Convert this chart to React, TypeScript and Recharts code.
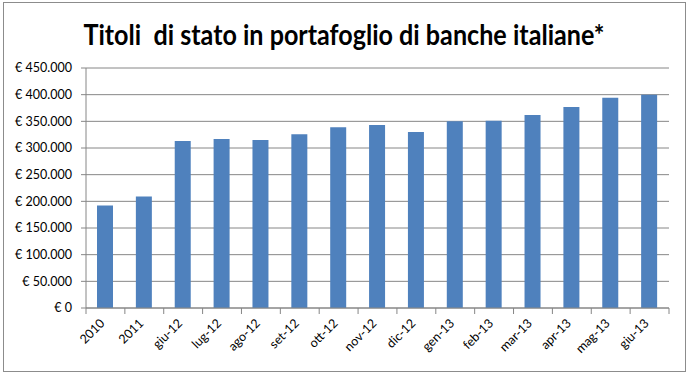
import { BarChart, Bar, XAxis, YAxis, CartesianGrid } from "recharts";

const categories = [
  "2010", "2011", "giu-12", "lug-12", "ago-12", "set-12", "ott-12", "nov-12",
  "dic-12", "gen-13", "feb-13", "mar-13", "apr-13", "mag-13", "giu-13",
];
const values = [
  192000, 209000, 313000, 317000, 315000, 326000, 339000, 343000,
  330000, 350000, 351000, 362000, 377000, 394000, 400000,
];
const yTicks = [0, 50000, 100000, 150000, 200000, 250000, 300000, 350000, 400000, 450000];

const title = "Titoli  di stato in portafoglio di banche italiane*";

const data = categories.map((c, i) => ({ cat: c, value: values[i] }));

const W = 688;
const H = 375;
const LEFT = 86;
const RIGHT = 19;
const GRID = "#868686";
const FONT = "Lato, 'Open Sans', sans-serif";
const band = (W - LEFT - RIGHT) / categories.length;

const euro = (v: number) => "€ " + String(v).replace(/\B(?=(\d{3})+(?!\d))/g, ".");

// category labels rotated like Excel, tick marks sit between categories
function XTick(props: any) {
  const { x, y, payload, index } = props;
  const last = index === categories.length - 1;
  const tx = x;
  const ty = y + 16;
  return (
    <g>
      <line x1={x - band / 2} x2={x - band / 2} y1={y} y2={y + 6} stroke={GRID} />
      {last && <line x1={x + band / 2} x2={x + band / 2} y1={y} y2={y + 6} stroke={GRID} />}
      <text
        x={tx}
        y={ty}
        textAnchor="end"
        transform={`rotate(-45, ${tx}, ${ty})`}
        fontSize={12.5}
        fontFamily={FONT}
        fill="#000"
      >
        {payload.value}
      </text>
    </g>
  );
}

export default function App() {
  return (
    <div style={{ position: "absolute", left: 0, top: 0, width: W, height: H, background: "#fff" }}>
      <div
        style={{
          position: "absolute",
          left: 3,
          top: 2,
          width: 681,
          height: 368,
          border: "1px solid #8c8c8c",
        }}
      />
      <svg width={W} height={60} style={{ position: "absolute", left: 0, top: 0 }}>
        <text
          x={344}
          y={45}
          textAnchor="middle"
          fontSize={28}
          fontWeight="bold"
          fontFamily={FONT}
          textLength={521}
          lengthAdjust="spacingAndGlyphs"
          style={{ whiteSpace: "pre" }}
        >
          {title}
        </text>
      </svg>
      <div style={{ position: "absolute", left: 0, top: 0 }}>
        <BarChart width={W} height={H} data={data} margin={{ top: 68, right: RIGHT, bottom: 0, left: 0 }}>
          <CartesianGrid vertical={false} stroke={GRID} />
          <XAxis
            dataKey="cat"
            height={67}
            interval={0}
            tickLine={false}
            tickSize={0}
            tickMargin={0}
            axisLine={{ stroke: GRID }}
            tick={<XTick />}
          />
          <YAxis
            width={86}
            domain={[0, 450000]}
            ticks={yTicks}
            tickFormatter={euro}
            tickSize={5}
            tickMargin={9}
            tickLine={{ stroke: GRID }}
            axisLine={{ stroke: GRID }}
            tick={{ fontSize: 12.5, fill: "#000", fontFamily: FONT }}
          />
          <Bar dataKey="value" fill="#4F81BD" barSize={16} isAnimationActive={false} />
        </BarChart>
      </div>
    </div>
  );
}
